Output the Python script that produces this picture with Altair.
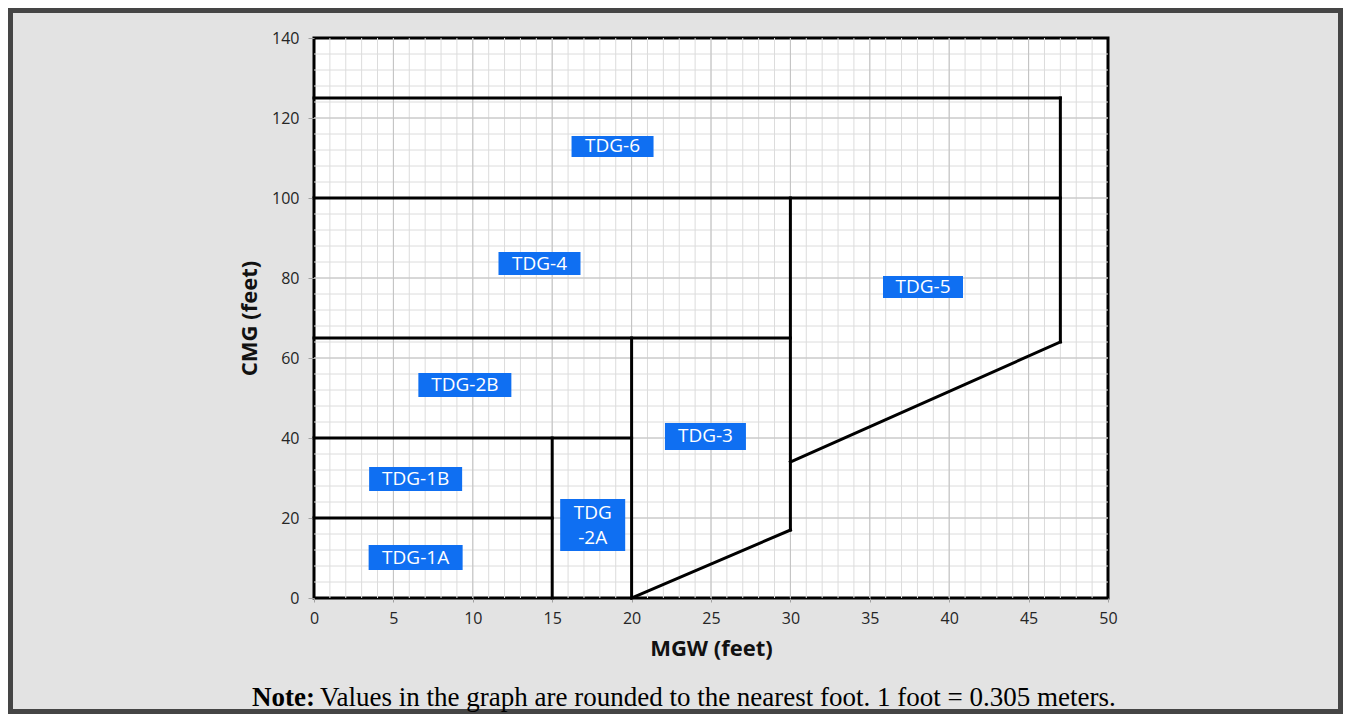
import altair as alt
import pandas as pd

# Boundary segments (feet): start (x, y) -> end (x2, y2)
seg_x  = [0, 47, 47, 0, 30, 30, 0, 20, 0, 15, 0]
seg_y  = [125, 125, 64, 100, 100, 17, 65, 65, 40, 40, 20]
seg_x2 = [47, 47, 30, 47, 30, 20, 30, 20, 20, 15, 15]
seg_y2 = [125, 64, 34, 100, 17, 0, 65, 0, 40, 0, 20]

# Zone labels and their centres (feet)
labels  = ["TDG-6", "TDG-4", "TDG-5", "TDG-2B", "TDG-3", "TDG-1B", "TDG-1A", "TDG\n-2A"]
label_x = [18.8, 14.2, 38.35, 9.5, 24.65, 6.4, 6.4, 17.55]
label_y = [112.9, 83.6, 77.75, 53.25, 40.4, 29.75, 10.1, 18.25]

# Label box sizes in pixels (styling)
box_w = [82, 82, 80, 93, 81, 93, 94, 65]
box_h = [21, 23, 22, 24, 27, 24, 25, 52]

# Axis ticks and grid
x_ticks = list(range(0, 51, 5))
y_ticks = list(range(0, 141, 20))
x_minor = list(range(0, 51, 1))
y_minor = list(range(0, 141, 4))

W, H = 794, 560
BLUE = "#0f6ff2"

xscale = alt.Scale(domain=[0, 50], nice=False)
yscale = alt.Scale(domain=[0, 140], nice=False)

seg_df = pd.DataFrame({"x": seg_x, "y": seg_y, "x2": seg_x2, "y2": seg_y2})
lab_df = pd.DataFrame({"label": labels, "x": label_x, "y": label_y})
lab_df["path"] = [
    f"M{-w/2},{-h/2}L{w/2},{-h/2}L{w/2},{h/2}L{-w/2},{h/2}Z" for w, h in zip(box_w, box_h)
]
lab_df["multi"] = ["\n" in s for s in labels]
one = pd.DataFrame({"v": [0]})

inner = lambda vals, lo, hi: [v for v in vals if lo < v < hi]

x_axis = alt.Axis(values=x_ticks, title="MGW (feet)", grid=False, domain=False,
                  tickSize=4, labelPadding=8, titlePadding=12, labelFlush=False)
y_axis = alt.Axis(values=y_ticks, title="CMG (feet)", grid=False, domain=False,
                  tickSize=6, labelPadding=9, titlePadding=10)

frame = alt.Chart(one).mark_rect(fill="transparent", stroke="#454545", strokeWidth=5).encode(
    x=alt.value(-303.5), x2=alt.value(1026.5), y=alt.value(-27.5), y2=alt.value(673.5)
)

gx_minor = alt.Chart(pd.DataFrame({"g": inner(x_minor, 0, 50)})).mark_rule(color="#dcdcdc", strokeWidth=1).encode(
    x=alt.X("g:Q", scale=xscale, axis=x_axis)
)
gy_minor = alt.Chart(pd.DataFrame({"g": inner(y_minor, 0, 140)})).mark_rule(color="#dcdcdc", strokeWidth=1).encode(
    y=alt.Y("g:Q", scale=yscale, axis=y_axis)
)
gx_major = alt.Chart(pd.DataFrame({"g": inner(x_ticks, 0, 50)})).mark_rule(color="#c2c2c2", strokeWidth=1).encode(
    x=alt.X("g:Q", scale=xscale, axis=x_axis)
)
gy_major = alt.Chart(pd.DataFrame({"g": inner(y_ticks, 0, 140)})).mark_rule(color="#c2c2c2", strokeWidth=1).encode(
    y=alt.Y("g:Q", scale=yscale, axis=y_axis)
)

segs = alt.Chart(seg_df).mark_rule(color="black", strokeWidth=3, strokeCap="square").encode(
    x=alt.X("x:Q", scale=xscale, axis=x_axis),
    y=alt.Y("y:Q", scale=yscale, axis=y_axis),
    x2="x2:Q", y2="y2:Q",
)

boxes = alt.Chart(lab_df).mark_point(filled=True, opacity=1, strokeWidth=0).encode(
    x=alt.X("x:Q", scale=xscale, axis=x_axis),
    y=alt.Y("y:Q", scale=yscale, axis=y_axis),
    shape=alt.Shape("path:N", scale=None),
    size=alt.value(4),
    color=alt.value(BLUE),
)

text_style = dict(color="white", font="Open Sans", fontSize=19, lineBreak="\n", lineHeight=25,
                  baseline="middle", align="center")

texts_single = alt.Chart(lab_df).transform_filter("!datum.multi").mark_text(**text_style).encode(
    x=alt.X("x:Q", scale=xscale, axis=x_axis),
    y=alt.Y("y:Q", scale=yscale, axis=y_axis),
    text="label:N",
)
texts_multi = alt.Chart(lab_df).transform_filter("datum.multi").mark_text(dy=-12.5, **text_style).encode(
    x=alt.X("x:Q", scale=xscale, axis=x_axis),
    y=alt.Y("y:Q", scale=yscale, axis=y_axis),
    text="label:N",
)

note_bold = alt.Chart(one).mark_text(
    text="Note:", font="Liberation Serif", fontSize=27, fontWeight="bold",
    align="left", baseline="alphabetic", color="black"
).encode(x=alt.value(-62), y=alt.value(668))

note_rest = alt.Chart(one).mark_text(
    text="Values in the graph are rounded to the nearest foot.  1 foot = 0.305 meters.",
    font="Liberation Serif", fontSize=27, align="left", baseline="alphabetic", color="black"
).encode(x=alt.value(6), y=alt.value(668))

chart = alt.layer(
    frame, gx_minor, gy_minor, gx_major, gy_major, segs, boxes, texts_single, texts_multi,
    note_bold, note_rest
).properties(
    width=W, height=H, padding=0, background="#e3e3e3"
).configure_view(
    fill="white", stroke="black", strokeWidth=3
).configure_axis(
    labelFont="Open Sans", labelFontSize=16, labelColor="#262626",
    titleFont="Open Sans", titleFontSize=22, titleFontWeight="bold", titleColor="#111111",
    tickColor="#a0a0a0"
)

chart.save("out.html", embed_options={"renderer": "svg", "actions": False})
